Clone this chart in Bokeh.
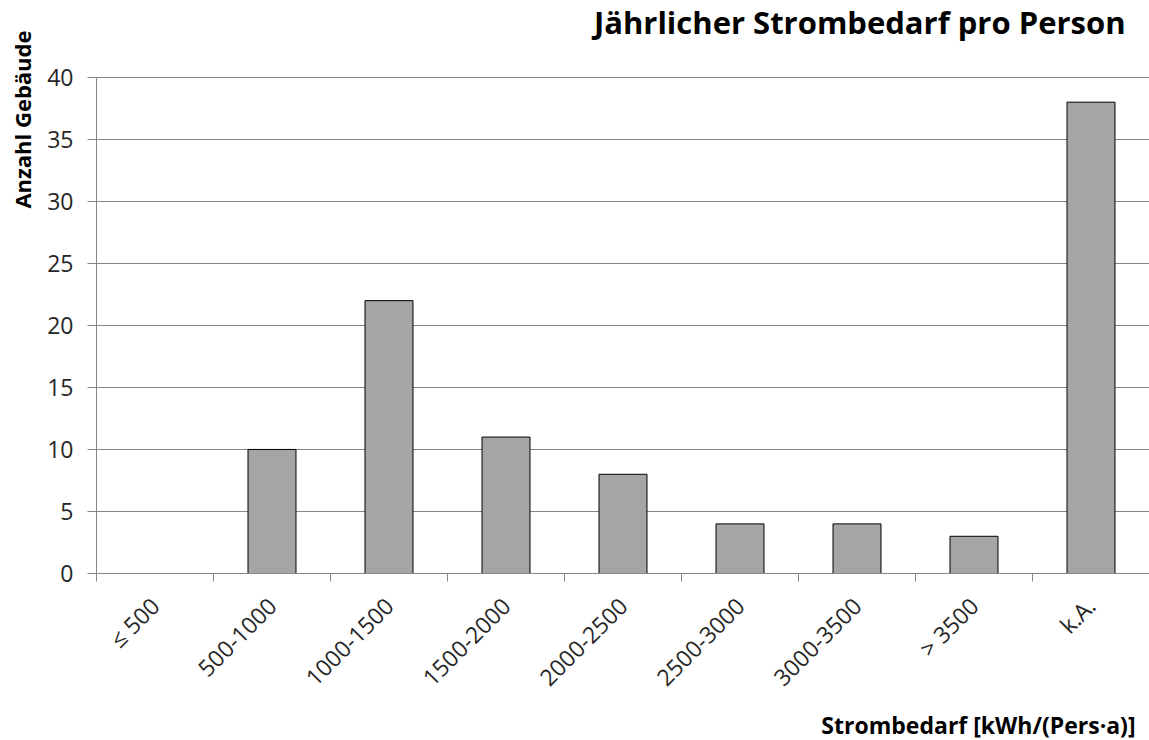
import math
from bokeh.plotting import figure
from bokeh.models import Range1d, FixedTicker, CustomJSTickFormatter, Title, Label
from bokeh.embed import file_html
from bokeh.resources import INLINE

categories = ["≤ 500", "500-1000", "1000-1500", "1500-2000", "2000-2500",
              "2500-3000", "3000-3500", "> 3500", "k.A."]
counts = [0, 10, 22, 11, 8, 4, 4, 3, 38]
y_ticks = [0, 5, 10, 15, 20, 25, 30, 35, 40]

title_text = "Jährlicher Strombedarf pro Person"
x_label = "Strombedarf [kWh/(Pers·a)]"
y_label = "Anzahl Gebäude"

FONT = "Open Sans"
GRAY = "#868686"

W, H = 1149, 740
BORDER_BOTTOM = 166
TOP_GAP = 77          # space above the 40-gridline, kept inside the frame
frame_h = H - BORDER_BOTTOM
y_max = y_ticks[-1]
y_end = y_max * frame_h / (frame_h - TOP_GAP)

n = len(categories)
centers = [i + 0.5 for i in range(n)]
bounds = [float(i) for i in range(n + 1)]

p = figure(width=W, height=H,
           x_range=Range1d(0, n), y_range=Range1d(0, y_end),
           output_backend="svg", toolbar_location=None,
           min_border_left=96, min_border_right=0,
           min_border_top=0, min_border_bottom=BORDER_BOTTOM)

p.vbar(x=centers, top=counts, width=0.41, fill_color="#a5a5a5",
       line_color="#000000", line_width=1)

p.outline_line_color = None
p.xgrid.visible = False
p.ygrid.grid_line_color = GRAY
p.ygrid.grid_line_width = 1
p.ygrid.ticker = FixedTicker(ticks=y_ticks)

# y axis
p.yaxis.ticker = FixedTicker(ticks=y_ticks)
p.yaxis.bounds = (0, y_max)
p.yaxis.axis_line_color = GRAY
p.yaxis.major_tick_line_color = GRAY
p.yaxis.major_tick_out = 9
p.yaxis.major_tick_in = 0
p.yaxis.minor_tick_line_color = None
p.yaxis.major_label_text_font = FONT
p.yaxis.major_label_text_font_size = "23px"
p.yaxis.major_label_text_color = "#262626"
p.yaxis.major_label_standoff = 14

# x axis
p.xaxis.ticker = FixedTicker(ticks=centers, minor_ticks=bounds)
p.xaxis.formatter = CustomJSTickFormatter(args=dict(labels=categories),
                                          code="return labels[Math.floor(tick)];")
p.xaxis.axis_line_color = GRAY
p.xaxis.major_tick_line_color = None
p.xaxis.major_tick_out = 0
p.xaxis.major_tick_in = 0
p.xaxis.minor_tick_line_color = GRAY
p.xaxis.minor_tick_out = 8
p.xaxis.minor_tick_in = 0
p.xaxis.major_label_orientation = math.pi / 4
p.xaxis.major_label_text_font = FONT
p.xaxis.major_label_text_font_size = "23px"
p.xaxis.major_label_text_color = "#262626"
p.xaxis.major_label_standoff = 20

# chart title inside the (extended) frame, screen units from frame bottom-left
p.add_layout(Label(text=title_text, x=1029, y=frame_h - 22,
                   x_units="screen", y_units="screen",
                   text_align="right", text_baseline="alphabetic",
                   text_font=FONT, text_font_size="31px",
                   text_font_style="bold", text_color="#000000"))
p.add_layout(Title(text=x_label, align="right", offset=14, standoff=0,
                   text_font=FONT, text_font_size="23px",
                   text_font_style="bold", text_color="#000000"), "below")
p.add_layout(Title(text=y_label, align="right", offset=30, standoff=12,
                   vertical_align="top",
                   text_font=FONT, text_font_size="22px",
                   text_font_style="bold", text_color="#000000"), "left")

open("out.html", "w").write(file_html(p, INLINE))
